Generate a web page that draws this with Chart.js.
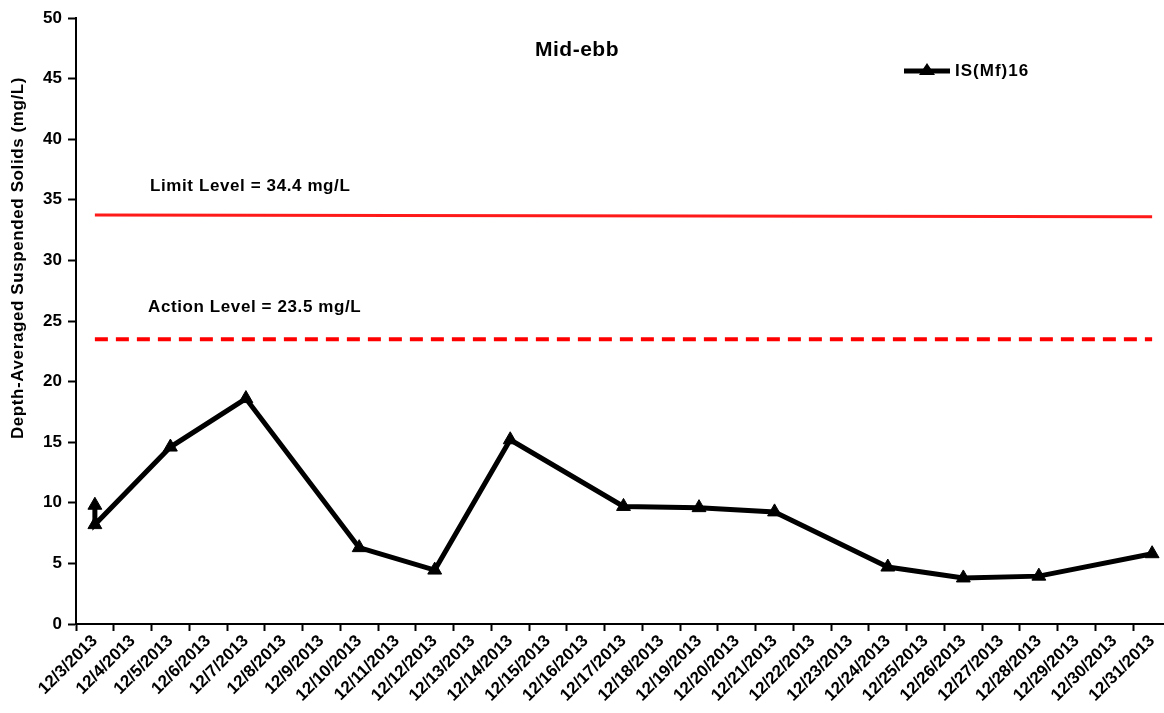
<!DOCTYPE html>
<html>
<head>
<meta charset="utf-8">
<script src="https://cdn.jsdelivr.net/npm/chart.js@4.4.0/dist/chart.umd.min.js"></script>
<style>
  html, body { margin: 0; padding: 0; background: #fff; overflow: hidden; }
  #wrap { position: relative; width: 1180px; height: 713px; }
</style>
</head>
<body>
<div id="wrap"><canvas id="chart"></canvas></div>
<script>
/* Mid-ebb depth-averaged suspended solids, Dec 2013 */

const days = [
  "12/3/2013", "12/4/2013", "12/5/2013", "12/6/2013", "12/7/2013", "12/8/2013",
  "12/9/2013", "12/10/2013", "12/11/2013", "12/12/2013", "12/13/2013", "12/14/2013",
  "12/15/2013", "12/16/2013", "12/17/2013", "12/18/2013", "12/19/2013", "12/20/2013",
  "12/21/2013", "12/22/2013", "12/23/2013", "12/24/2013", "12/25/2013", "12/26/2013",
  "12/27/2013", "12/28/2013", "12/29/2013", "12/30/2013", "12/31/2013",
];

// sampling days (12/3 was sampled twice)
const sampleDays = [
  "12/3/2013", "12/3/2013", "12/5/2013", "12/7/2013", "12/10/2013", "12/12/2013",
  "12/14/2013", "12/17/2013", "12/19/2013", "12/21/2013", "12/24/2013",
  "12/26/2013", "12/28/2013", "12/31/2013",
];
const isMf16 = [9.8, 8.2, 14.6, 18.6, 6.3, 4.45, 15.2, 9.7, 9.6, 9.25, 4.7, 3.8, 3.95, 5.8];

const levelDays = ["12/3/2013", "12/31/2013"];
const limitLine = [33.75, 33.6];
const actionLine = [23.5, 23.5];

const yTicks = [0, 5, 10, 15, 20, 25, 30, 35, 40, 45, 50];

const pair = (xs, ys) => xs.map((x, i) => ({ x, y: ys[i] }));

const FONT = "'Liberation Sans', Arial, sans-serif";

const overlayText = {
  id: "overlayText",
  afterDraw(chart) {
    const ctx = chart.ctx;
    ctx.save();
    ctx.fillStyle = "#000";
    ctx.textBaseline = "middle";

    ctx.font = "bold 21px " + FONT;
    ctx.letterSpacing = "0.5px";
    ctx.textAlign = "center";
    ctx.fillText("Mid-ebb", 577, 50);

    ctx.font = "bold 17px " + FONT;
    ctx.letterSpacing = "0.6px";
    ctx.textAlign = "left";
    ctx.fillText("Limit Level = 34.4 mg/L", 150, 186);
    ctx.fillText("Action Level = 23.5 mg/L", 148, 307);

    // legend
    const ds = chart.data.datasets[0];
    ctx.strokeStyle = ds.borderColor;
    ctx.lineWidth = 5;
    ctx.beginPath();
    ctx.moveTo(904, 71);
    ctx.lineTo(950, 71);
    ctx.stroke();
    ctx.beginPath();
    ctx.moveTo(927, 63);
    ctx.lineTo(935, 75);
    ctx.lineTo(919, 75);
    ctx.closePath();
    ctx.fillStyle = "#000";
    ctx.fill();
    ctx.font = "bold 17px " + FONT;
    ctx.letterSpacing = "1px";
    ctx.fillText("IS(Mf)16", 955, 71);

    // y axis title
    ctx.translate(18, 258);
    ctx.rotate(-Math.PI / 2);
    ctx.textAlign = "center";
    ctx.font = "bold 17px " + FONT;
    ctx.letterSpacing = "0.6px";
    ctx.fillText("Depth-Averaged Suspended Solids (mg/L)", 0, 0);
    ctx.restore();
  },
};

new Chart(document.getElementById("chart"), {
  type: "line",
  data: {
    labels: days,
    datasets: [
      {
        label: "IS(Mf)16",
        data: pair(sampleDays, isMf16),
        borderColor: "#000",
        backgroundColor: "#000",
        borderWidth: 5,
        pointStyle: "triangle",
        pointRadius: 8,
        pointBorderWidth: 1,
        tension: 0,
      },
      {
        label: "Limit Level",
        data: pair(levelDays, limitLine),
        borderColor: "#ff1a1a",
        borderWidth: 3,
        pointRadius: 0,
      },
      {
        label: "Action Level",
        data: pair(levelDays, actionLine),
        borderColor: "#ff0000",
        borderWidth: 4,
        borderDash: [13, 8],
        pointRadius: 0,
      },
    ],
  },
  options: {
    responsive: true,
    maintainAspectRatio: false,
    animation: false,
    layout: { padding: { top: 18, right: 3, left: 0, bottom: 0 } },
    plugins: {
      legend: { display: false },
      tooltip: { enabled: false },
    },
    scales: {
      x: {
        type: "category",
        offset: true,
        grid: {
          offset: true,
          drawOnChartArea: false,
          drawTicks: true,
          tickLength: 7,
          tickWidth: 2,
          color: "#000",
        },
        border: { color: "#000", width: 2 },
        ticks: {
          autoSkip: false,
          minRotation: 45,
          maxRotation: 45,
          color: "#000",
          padding: 0,
          font: { family: FONT, size: 17, weight: "bold" },
        },
        afterFit(scale) { scale.height = 89; },
      },
      y: {
        min: 0,
        max: 50,
        afterBuildTicks(scale) { scale.ticks = yTicks.map((v) => ({ value: v })); },
        grid: {
          drawOnChartArea: false,
          tickLength: 8,
          tickWidth: 2,
          color: "#000",
        },
        border: { color: "#000", width: 2 },
        ticks: {
          color: "#000",
          padding: 6,
          font: { family: FONT, size: 17, weight: "bold" },
        },
        afterFit(scale) { scale.width = 76; },
      },
    },
  },
  plugins: [overlayText],
});
</script>
</body>
</html>
